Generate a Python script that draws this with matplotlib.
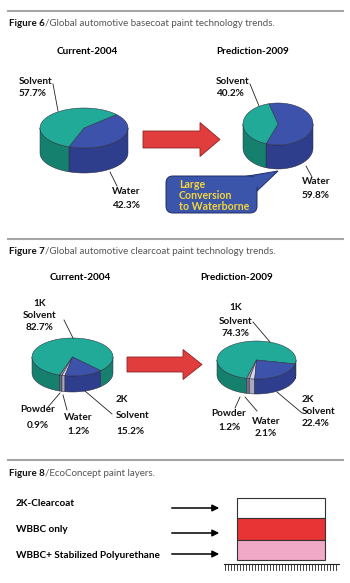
import numpy as np
import matplotlib.pyplot as plt
from matplotlib.patches import Polygon, FancyBboxPatch, FancyArrow, Rectangle

plt.rcParams['font.family'] = ['Lato', 'DejaVu Sans']

# ---- data ----
basecoat_names = ['Water', 'Solvent']
basecoat_2004 = [42.3, 57.7]
basecoat_2009 = [59.8, 40.2]

clearcoat_names = ['1K Solvent', 'Powder', 'Water', '2K Solvent']
clearcoat_2004 = [82.7, 0.9, 1.2, 15.2]
clearcoat_2009 = [74.3, 1.2, 2.1, 22.4]

layer_names = ['2K-Clearcoat', 'WBBC only', 'WBBC+ Stabilized Polyurethane']
layer_colors = ['#ffffff', '#e83434', '#f0a9c6']

TEAL = ('#20aa97', '#16806f')
BLUE = ('#3d52ab', '#2e3e8c')
GREY = ('#9494a6', '#6e6e80')
LIGHT = ('#d6d6ea', '#a9a9c2')
EDGE = '#2a2a3a'
RED = '#e23d3d'


def pie3d(ax, values, cols, cx, cy, a, b, h, start):
    """Fake 3D pie: slices go counter-clockwise from `start` (deg)."""
    fr = np.array(values) / sum(values) * 360
    edges = start + np.concatenate([[0], np.cumsum(fr)])
    for i in range(len(values)):
        t0, t1 = edges[i], edges[i + 1]
        for k in (-360, 0, 360):
            lo, hi = max(t0, 180 + k), min(t1, 360 + k)
            if hi > lo:
                th = np.radians(np.linspace(lo, hi, 60))
                x = cx + a * np.cos(th)
                y = cy - b * np.sin(th)
                pts = np.column_stack([np.r_[x, x[::-1]], np.r_[y, y[::-1] + h]])
                ax.add_patch(Polygon(pts, fc=cols[i][1], ec=EDGE, lw=0.35, zorder=2))
    for i in range(len(values)):
        th = np.radians(np.linspace(edges[i], edges[i + 1], 120))
        pts = np.column_stack([np.r_[cx, cx + a * np.cos(th)], np.r_[cy, cy - b * np.sin(th)]])
        ax.add_patch(Polygon(pts, fc=cols[i][0], ec=EDGE, lw=0.35, zorder=3))


def caption(ax, fig, x, y, bold, rest):
    t = ax.text(x, y, bold, fontsize=7, fontweight='bold', color='#111111', va='center')
    r = fig.canvas.get_renderer()
    w = t.get_window_extent(renderer=r).width
    ax.text(x + w, y, rest, fontsize=7, color='#555555', va='center')


def lbl(ax, x, ys, lines, ha='left'):
    for yy, s in zip(ys, lines):
        ax.text(x, yy, s, fontsize=7.2, fontweight='bold', ha=ha, va='center', color='#111111')


def leader(ax, x1, y1, x2, y2):
    ax.plot([x1, x2], [y1, y2], color='#222222', lw=0.6, zorder=4)


fig = plt.figure(figsize=(3.5, 5.83), dpi=100)
ax = fig.add_axes([0, 0, 1, 1])
ax.set_xlim(0, 350)
ax.set_ylim(583, 0)
ax.axis('off')

for yy in (11, 239, 460):
    ax.plot([8, 343], [yy, yy], color='#a5a5a5', lw=1.5)

# ---- Figure 6 ----
caption(ax, fig, 9, 23, 'Figure 6', '/Global automotive basecoat paint technology trends.')
ax.text(87, 52, 'Current-2004', fontsize=7.2, fontweight='bold', ha='center', va='center')
ax.text(253, 52, 'Prediction-2009', fontsize=7.2, fontweight='bold', ha='center', va='center')

pie3d(ax, basecoat_2004, [BLUE, TEAL], 84, 128, 44, 20, 25, 250)
pie3d(ax, basecoat_2009, [BLUE, TEAL], 278, 124, 35, 21, 24, 250)

lbl(ax, 19, [81, 94], ['Solvent', f'{basecoat_2004[1]}%'])
lbl(ax, 112, [192, 206], ['Water', f'{basecoat_2004[0]}%'])
lbl(ax, 216, [81, 94], ['Solvent', f'{basecoat_2009[1]}%'])
lbl(ax, 302, [182, 196], ['Water', f'{basecoat_2009[0]}%'])
leader(ax, 53, 84, 58, 111)
leader(ax, 110, 172, 117, 186)
leader(ax, 250, 84, 259, 106)
leader(ax, 306, 166, 312, 177)

ax.add_patch(FancyArrow(143, 139.5, 77, 0, width=17, head_width=34, head_length=20,
                        length_includes_head=True, fc=RED, ec='#8a2424', lw=0.6))

# callout
tail = [(242, 177), (278, 171), (256, 192)]
ax.add_patch(Polygon(tail, fc='#3a55aa', ec='#1e2d66', lw=0.7, zorder=5))
ax.add_patch(FancyBboxPatch((166, 176), 91, 37, boxstyle='round,pad=0,rounding_size=7',
                            fc='#3a55aa', ec='#1e2d66', lw=0.7, zorder=5))
ax.add_patch(Polygon([(244, 178.5), (274, 173), (254, 189)], fc='#3a55aa', ec='none', zorder=6))
for yy, s in zip([185, 195.5, 206], ['Large', 'Conversion', 'to Waterborne']):
    ax.text(179, yy, s, fontsize=7.6, fontweight='bold', color='#f4d63c', va='center', zorder=7)

# ---- Figure 7 ----
caption(ax, fig, 9, 252, 'Figure 7', '/Global automotive clearcoat paint technology trends.')
ax.text(80, 278, 'Current-2004', fontsize=7.2, fontweight='bold', ha='center', va='center')
ax.text(237, 277, 'Prediction-2009', fontsize=7.2, fontweight='bold', ha='center', va='center')

cc_cols = [TEAL, GREY, LIGHT, BLUE]
pie3d(ax, clearcoat_2004, cc_cols, 72.5, 357, 40.5, 19, 16, -46)
pie3d(ax, clearcoat_2009, cc_cols, 256.5, 360, 39.5, 19, 15, -12)

lbl(ax, 40, [303, 315, 327], ['1K', 'Solvent', f'{clearcoat_2004[0]}%'], ha='center')
lbl(ax, 38, [410, 425], ['Powder', f'{clearcoat_2004[1]}%'], ha='center')
lbl(ax, 78, [418, 431], ['Water', f'{clearcoat_2004[2]}%'], ha='center')
lbl(ax, 116, [400, 415, 431], ['2K', 'Solvent', f'{clearcoat_2004[3]}%'])
leader(ax, 64, 320, 73, 338)
leader(ax, 48, 407, 60, 393)
leader(ax, 63, 395, 67, 410)
leader(ax, 85, 391, 112, 414)

lbl(ax, 236, [308, 321, 334], ['1K', 'Solvent', f'{clearcoat_2009[0]}%'], ha='center')
lbl(ax, 229, [414, 427], ['Powder', f'{clearcoat_2009[1]}%'], ha='center')
lbl(ax, 266, [421, 434], ['Water', f'{clearcoat_2009[2]}%'], ha='center')
lbl(ax, 302, [400, 412, 424], ['2K', 'Solvent', f'{clearcoat_2009[3]}%'])
leader(ax, 253, 322, 270, 342)
leader(ax, 240, 397, 235, 408)
leader(ax, 245, 397, 257, 411)
leader(ax, 277, 392, 302, 413)

ax.add_patch(FancyArrow(127, 364.5, 75, 0, width=15, head_width=30, head_length=19,
                        length_includes_head=True, fc=RED, ec='#8a2424', lw=0.6))

# ---- Figure 8 ----
caption(ax, fig, 9, 473, 'Figure 8', '/EcoConcept paint layers.')
label_y = [503, 529, 556]
arrow_y = [508, 533, 554]
for name, ly, ay in zip(layer_names, label_y, arrow_y):
    ax.text(16, ly, name, fontsize=7.2, fontweight='bold', va='center')
    ax.annotate('', xy=(222, ay), xytext=(169, ay),
                arrowprops=dict(arrowstyle='-|>', color='black', lw=1.1, mutation_scale=10))

layer_top = [498, 518, 540]
layer_bot = [518, 540, 560]
for c, t, b in zip(layer_colors, layer_top, layer_bot):
    ax.add_patch(Rectangle((237, t), 88, b - t, fc=c, ec='#333333', lw=0.8))

ax.plot([224, 339], [564, 564], color='#222222', lw=0.8)
for xx in np.arange(225, 339, 3):
    ax.plot([xx, xx], [564, 570], color='#222222', lw=0.6)

fig.savefig('out.png', dpi=100)
